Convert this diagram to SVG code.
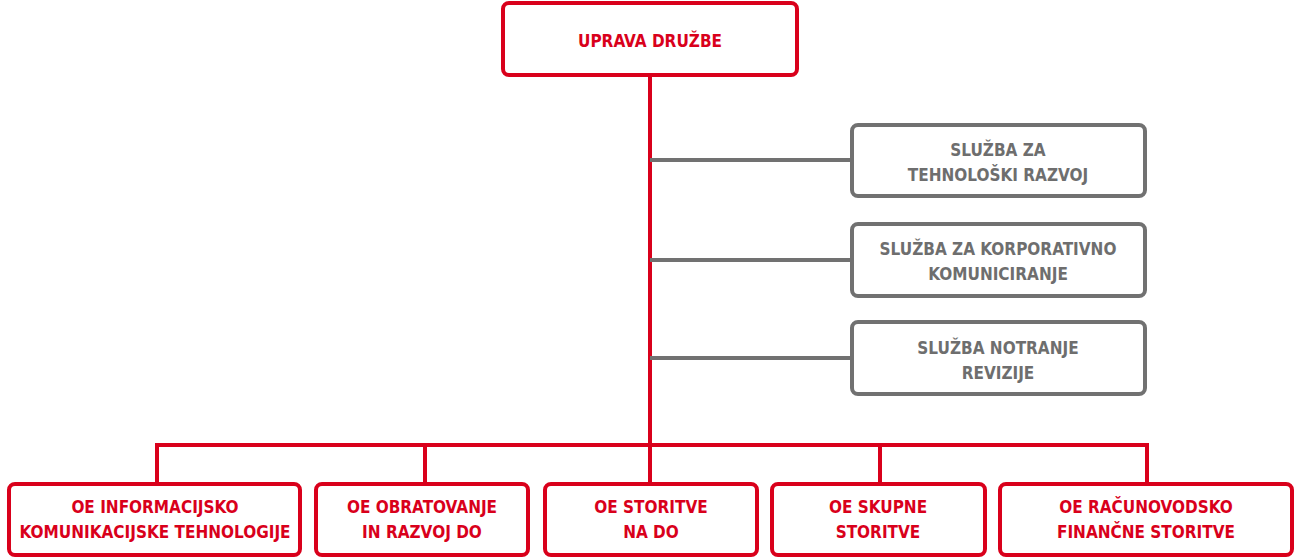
<svg xmlns="http://www.w3.org/2000/svg" width="1300" height="559" viewBox="0 0 1300 559">
<style>
.r{fill:#fff;stroke:#d9001b;stroke-width:4}
.g{fill:#fff;stroke:#717171;stroke-width:4}
.rl{stroke:#d9001b;stroke-width:4;fill:none}
.gl{stroke:#717171;stroke-width:4;fill:none}
text{font-family:"DejaVu Sans Condensed","DejaVu Sans",sans-serif;font-weight:bold;font-size:17px;text-anchor:middle}
.rt{fill:#d9001b}
.gt{fill:#6e6e6e}
</style>
<rect width="1300" height="559" fill="#fff"/>
<g id="connectors">
<line class="rl" x1="650" y1="75" x2="650" y2="447"/>
<line class="gl" x1="650" y1="160" x2="852" y2="160"/>
<line class="gl" x1="650" y1="260" x2="852" y2="260"/>
<line class="gl" x1="650" y1="358" x2="852" y2="358"/>
<polyline class="rl" points="157,484 157,445 1147,445 1147,484"/>
<line class="rl" x1="425" y1="445" x2="425" y2="484"/>
<line class="rl" x1="650" y1="445" x2="650" y2="484"/>
<line class="rl" x1="880" y1="445" x2="880" y2="484"/>
</g>
<g id="uprava">
<rect class="r" x="503" y="3" width="294" height="72" rx="6"/>
<text class="rt" x="650" y="47">UPRAVA DRUŽBE</text>
</g>
<g id="sluzba-tech">
<rect class="g" x="852" y="125" width="293" height="71" rx="6"/>
<text class="gt" x="998" y="156">SLUŽBA ZA</text>
<text class="gt" x="998" y="181">TEHNOLOŠKI RAZVOJ</text>
</g>
<g id="sluzba-korp">
<rect class="g" x="852" y="224" width="293" height="72" rx="6"/>
<text class="gt" x="998" y="255">SLUŽBA ZA KORPORATIVNO</text>
<text class="gt" x="998" y="280">KOMUNICIRANJE</text>
</g>
<g id="sluzba-revizija">
<rect class="g" x="852" y="322" width="293" height="72" rx="6"/>
<text class="gt" x="998" y="354">SLUŽBA NOTRANJE</text>
<text class="gt" x="998" y="379">REVIZIJE</text>
</g>
<g id="oe-ikt">
<rect class="r" x="9" y="484" width="291" height="71" rx="6"/>
<text class="rt" x="155" y="513">OE INFORMACIJSKO</text>
<text class="rt" x="155" y="538">KOMUNIKACIJSKE TEHNOLOGIJE</text>
</g>
<g id="oe-obratovanje">
<rect class="r" x="316" y="484" width="212" height="71" rx="6"/>
<text class="rt" x="422" y="513">OE OBRATOVANJE</text>
<text class="rt" x="422" y="538">IN RAZVOJ DO</text>
</g>
<g id="oe-storitve">
<rect class="r" x="545" y="484" width="212" height="71" rx="6"/>
<text class="rt" x="651" y="513">OE STORITVE</text>
<text class="rt" x="651" y="538">NA DO</text>
</g>
<g id="oe-skupne">
<rect class="r" x="772" y="484" width="213" height="71" rx="6"/>
<text class="rt" x="878" y="513">OE SKUPNE</text>
<text class="rt" x="878" y="538">STORITVE</text>
</g>
<g id="oe-racunovodsko">
<rect class="r" x="1000" y="484" width="292" height="71" rx="6"/>
<text class="rt" x="1146" y="513">OE RAČUNOVODSKO</text>
<text class="rt" x="1146" y="538">FINANČNE STORITVE</text>
</g>
</svg>
